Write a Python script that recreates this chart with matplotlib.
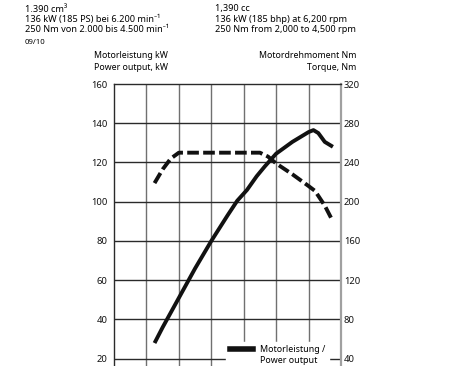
"""
Engine power / torque curve (1.390 cm³, 136 kW) with German and English captions.
"""

import matplotlib
matplotlib.use("Agg")
import matplotlib.pyplot as plt
from matplotlib.lines import Line2D

plt.rcParams["font.family"] = ["Noto Sans", "DejaVu Sans"]

# ── Data (rpm, kW and rpm, Nm) ─────────────────────────────────────────────────
power_rpm = [1250, 1500, 2000, 2500, 3000, 3500, 3800, 4100, 4400,
             4650, 5000, 5500, 6000, 6150, 6300, 6500, 6750]
power_kw = [28, 36, 51, 66, 80, 93, 100.5, 106, 113,
            118, 124.5, 130.5, 135.5, 136.5, 135, 130.5, 128]

torque_rpm = [1250, 1500, 1750, 2000, 2500, 3000, 3500, 4000, 4500,
              4750, 5000, 5500, 6000, 6200, 6500, 6750]
torque_nm = [219, 233, 244, 250, 250, 250, 250, 250, 250,
             246, 239, 228, 216, 211, 196, 180]

kw_ticks = [20, 40, 60, 80, 100, 120, 140, 160]
nm_ticks = [40, 80, 120, 160, 200, 240, 280, 320]
rpm_grid = [1000, 2000, 3000, 4000, 5000, 6000]

header_de = ["1.390 cm³", "136 kW (185 PS) bei 6.200 min⁻¹",
             "250 Nm von 2.000 bis 4.500 min⁻¹"]
header_en = ["1,390 cc", "136 kW (185 bhp) at 6,200 rpm",
             "250 Nm from 2,000 to 4,500 rpm"]

W, H = 467, 366
fig = plt.figure(figsize=(W / 100, H / 100), dpi=100)
ax = fig.add_axes([114 / W, 0.0, (341 - 114) / W, 1 - 84 / H])

kw_lo, kw_hi = 16.3, 160
ax.set_xlim(0, 7000)
ax.set_ylim(kw_lo, kw_hi)

# grid: light verticals every 1000 rpm, dark horizontals every 20 kW
for r in rpm_grid:
    ax.axvline(r, color="#707070", lw=1.0, zorder=1)
for k in kw_ticks[:-1]:
    ax.axhline(k, color="#2a2a2a", lw=1.0, zorder=1)

ax.spines["top"].set_color("#2a2a2a")
ax.spines["left"].set_color("#2a2a2a")
ax.spines["right"].set_color("#a0a0a0")
ax.spines["right"].set_linewidth(1.6)
ax.spines["bottom"].set_visible(False)
for s in ("top", "left"):
    ax.spines[s].set_linewidth(1.0)

ax.set_xticks([])
ax.set_yticks(kw_ticks)
ax.tick_params(axis="y", length=0, pad=4.5, labelsize=6.8, colors="#111111")

ax2 = ax.twinx()
ax2.set_ylim(2 * kw_lo, 2 * kw_hi)
ax2.set_yticks(nm_ticks)
ax2.tick_params(axis="y", length=0, pad=2, labelsize=6.8, colors="#111111")
for s in ax2.spines.values():
    s.set_visible(False)

# curves (torque drawn on the Nm axis)
ax.plot(power_rpm, power_kw, color="#111111", lw=2.8,
        solid_capstyle="butt", solid_joinstyle="round", zorder=3)
ax2.plot(torque_rpm, torque_nm, color="#111111", lw=2.8,
         dashes=(3.0, 1.1), dash_capstyle="butt", zorder=3)

# legend: first row carries the line, second row is text only
handles = [Line2D([], [], color="#111111", lw=4.0),
           Line2D([], [], color="none")]
leg = ax2.legend(handles, ["Motorleistung /", "Power output"],
                 loc="lower right", bbox_to_anchor=(0.965, -0.025),
                 frameon=True, fancybox=False, framealpha=1.0,
                 facecolor="white", edgecolor="white", fontsize=6.4,
                 handlelength=2.6, handletextpad=0.8, labelspacing=0.2,
                 borderpad=0.4)
leg.set_zorder(5)

# header text
fs = 6.6
for i, (de, en) in enumerate(zip(header_de, header_en)):
    y = 1 - (9 + 10.5 * i) / H
    fig.text(25 / W, y, de, fontsize=fs, va="center", ha="left")
    fig.text(215 / W, y, en, fontsize=fs, va="center", ha="left")
fig.text(25 / W, 1 - 43 / H, "09/10", fontsize=5.6, va="center", ha="left")

# axis captions
cfs = 6.3
fig.text(94 / W, 1 - 56 / H, "Motorleistung kW", fontsize=cfs, va="center")
fig.text(94 / W, 1 - 67 / H, "Power output, kW", fontsize=cfs, va="center")
fig.text(356 / W, 1 - 56 / H, "Motordrehmoment Nm", fontsize=cfs,
         va="center", ha="right")
fig.text(356 / W, 1 - 67 / H, "Torque, Nm", fontsize=cfs,
         va="center", ha="right")

fig.savefig("out.png", dpi=100)
